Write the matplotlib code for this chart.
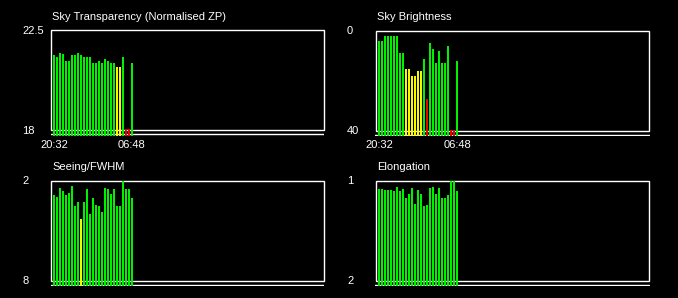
import matplotlib
matplotlib.use("Agg")
import matplotlib.pyplot as plt
from matplotlib.patches import Rectangle

plt.rcParams['font.family'] = ['Liberation Sans', 'DejaVu Sans']

W, H, DPI = 678, 298, 100

GREEN = '#00F000'
YELLOW = '#F8F800'
RED = '#F00000'
WHITE = '#FFFFFF'

time_labels = ['20:32', '06:48']

transparency = [21.38, 21.33, 21.47, 21.42, 21.11, 21.11, 21.38, 21.38, 21.47,
                21.38, 21.33, 21.33, 21.29, 21.02, 21.02, 21.11, 21.06, 21.24,
                21.15, 21.06, 21.06, 20.88, 20.84, 21.33, 18.0, 18.0, 21.06]
transparency_flags = ['g'] * 21 + ['y', 'y', 'g', 'r', 'r', 'g']

brightness = [4.0, 4.0, 2.0, 2.0, 2.0, 2.0, 2.0, 8.8, 8.8, 15.2, 15.2, 18.0,
              18.0, 16.0, 16.0, 11.2, 27.2, 4.8, 7.2, 12.8, 8.0, 12.8, 12.8,
              6.0, 40.0, 40.0, 12.0]
brightness_flags = (['g'] * 9 + ['y'] * 6 + ['g', 'r'] + ['g'] * 7
                    + ['r', 'r', 'g'])

seeing = [2.84, 2.96, 2.42, 2.60, 2.84, 2.72, 2.30, 3.50, 3.26, 4.28, 3.26,
          2.48, 3.98, 3.02, 3.44, 3.50, 3.86, 2.42, 2.48, 2.78, 2.48, 3.50,
          3.50, 2.00, 2.48, 2.48, 3.02]
seeing_flags = ['g'] * 9 + ['y'] + ['g'] * 17

elongation = [1.08, 1.08, 1.09, 1.09, 1.09, 1.10, 1.06, 1.10, 1.08, 1.17,
              1.13, 1.07, 1.23, 1.09, 1.13, 1.25, 1.24, 1.07, 1.06, 1.13,
              1.07, 1.17, 1.17, 1.14, 1.00, 1.00, 1.10]
elongation_flags = ['g'] * 27

COLORS = {'g': GREEN, 'y': YELLOW, 'r': RED}

panels = [
    dict(title='Sky Transparency (Normalised ZP)', left=50.5, top=30.5,
         vtop=22.5, vbot=18.0, ticks=['22.5', '18'], vals=transparency,
         flags=transparency_flags, xl=True),
    dict(title='Sky Brightness', left=375.5, top=30.5,
         vtop=0.0, vbot=40.0, ticks=['0', '40'], vals=brightness,
         flags=brightness_flags, xl=True),
    dict(title='Seeing/FWHM', left=50.5, top=180.5,
         vtop=2.0, vbot=8.0, ticks=['2', '8'], vals=seeing,
         flags=seeing_flags, xl=False),
    dict(title='Elongation', left=375.5, top=180.5,
         vtop=1.0, vbot=2.0, ticks=['1', '2'], vals=elongation,
         flags=elongation_flags, xl=False),
]

fig = plt.figure(figsize=(W / DPI, H / DPI), dpi=DPI, facecolor='black')

BOX_W = 274.0   # px
BOX_H = 100.0   # px
AX_H = 105.0    # px (box + strip under it)
SPACING = 3.0   # px per bar slot
FIRST = 3.5     # px from left edge to first bar centre

for p in panels:
    ax = fig.add_axes([p['left'] / W, 1 - (p['top'] + AX_H) / H,
                       BOX_W / W, AX_H / H])
    ax.set_facecolor('black')
    for s in ax.spines.values():
        s.set_visible(False)
    d = (p['vbot'] - p['vtop']) / BOX_H
    ylo = p['vtop'] + AX_H * d
    ax.set_ylim(ylo, p['vtop'])
    x0 = -FIRST / SPACING
    ax.set_xlim(x0, x0 + BOX_W / SPACING)
    n = len(p['vals'])
    xs = list(range(n))
    tops = [v if v != p['vbot'] else p['vbot'] - d * 1.0 for v in p['vals']]
    heights = [v - ylo for v in tops]
    ax.bar(xs, heights, bottom=ylo, width=2 / 3,
           color=[COLORS[f] for f in p['flags']], linewidth=0, zorder=4)
    ax.add_patch(Rectangle((x0 + 0.02, p['vbot']), BOX_W / SPACING - 0.04,
                           p['vtop'] - p['vbot'], fill=False,
                           edgecolor=WHITE, linewidth=1.0, zorder=3,
                           clip_on=False))
    ax.axhline(p['vtop'] + 104 * d, color=WHITE, linewidth=1.0, zorder=3)
    ax.set_yticks([p['vtop'], p['vbot']], labels=p['ticks'])
    ax.tick_params(axis='y', length=0, pad=20.5, labelcolor=WHITE,
                   labelsize=8)
    for lab in ax.get_yticklabels():
        lab.set_horizontalalignment('left')
    if p['xl']:
        ax.set_xticks([0, n - 1], labels=time_labels)
        ax.tick_params(axis='x', length=0, pad=3, labelcolor=WHITE,
                       labelsize=8)
    else:
        ax.set_xticks([])
    fig.text((p['left'] + 1.5) / W, 1 - (p['top'] - 10.0) / H, p['title'],
             color=WHITE, fontsize=8, ha='left', va='baseline')

fig.savefig('out.png', dpi=DPI, facecolor='black')
